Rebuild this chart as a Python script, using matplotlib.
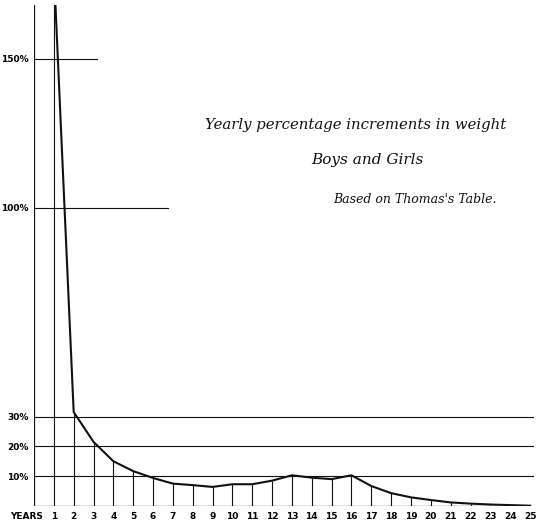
import matplotlib.pyplot as plt
import numpy as np

years = np.arange(1, 26)
increments = [180, 31.5, 21.5, 15.0, 11.7, 9.4, 7.5, 7.0, 6.4, 7.3, 7.3, 8.5, 10.3,
              9.5, 9.0, 10.3, 6.7, 4.3, 2.9, 2.0, 1.2, 0.8, 0.5, 0.3, 0.1]
pct_levels = [10, 20, 30, 100, 150]
pct_labels = ["10%", "20%", "30%", "100%", "150%"]
# how far each reference line runs across (fraction of the axes width)
line_reach = [1.0, 1.0, 1.0, 0.268, 0.125]

fig = plt.figure(figsize=(5.4, 5.27), dpi=100)
ax = fig.add_axes([34 / 540, 21 / 527, 500 / 540, 501 / 527])
ax.set_xlim(0, 25.2)
ax.set_ylim(0, 168)
for s in ax.spines.values():
    s.set_visible(False)

ink = "#111111"
# axes
ax.axvline(0, color=ink, lw=0.9)
ax.axhline(0, xmax=25.05 / 25.2, color=ink, lw=0.9)
for lvl, reach in zip(pct_levels, line_reach):
    ax.axhline(lvl, xmax=reach, color=ink, lw=0.8)

# year verticals up to the curve (year 1 goes to the top)
vals = np.array(increments)
ax.vlines(years[1:], 0, vals[1:], color=ink, lw=0.8)
ax.axvline(years[0], color=ink, lw=0.8)

ax.plot(years, vals, color=ink, lw=1.5)

ax.set_xticks(years)
ax.set_xticklabels([str(y) for y in years], fontsize=6.5, fontweight="bold")
ax.set_yticks(pct_levels)
ax.set_yticklabels(pct_labels, fontsize=6.5, fontweight="bold")
ax.tick_params(length=0, pad=4)
ax.text(0.45, -1.85, "YEARS", ha="right", va="top", fontsize=6.5, fontweight="bold")

script = dict(family="DejaVu Serif", style="italic", color=ink)
ax.text(16.2, 127.8, "Yearly percentage increments in weight", ha="center", va="center",
        fontsize=10.7, **script)
ax.text(16.8, 116, "Boys and Girls", ha="center", va="center", fontsize=11, **script)
ax.text(19.2, 102.7, "Based on Thomas's Table.", ha="center", va="center", fontsize=9,
        **script)

fig.savefig("out.png", dpi=100)
